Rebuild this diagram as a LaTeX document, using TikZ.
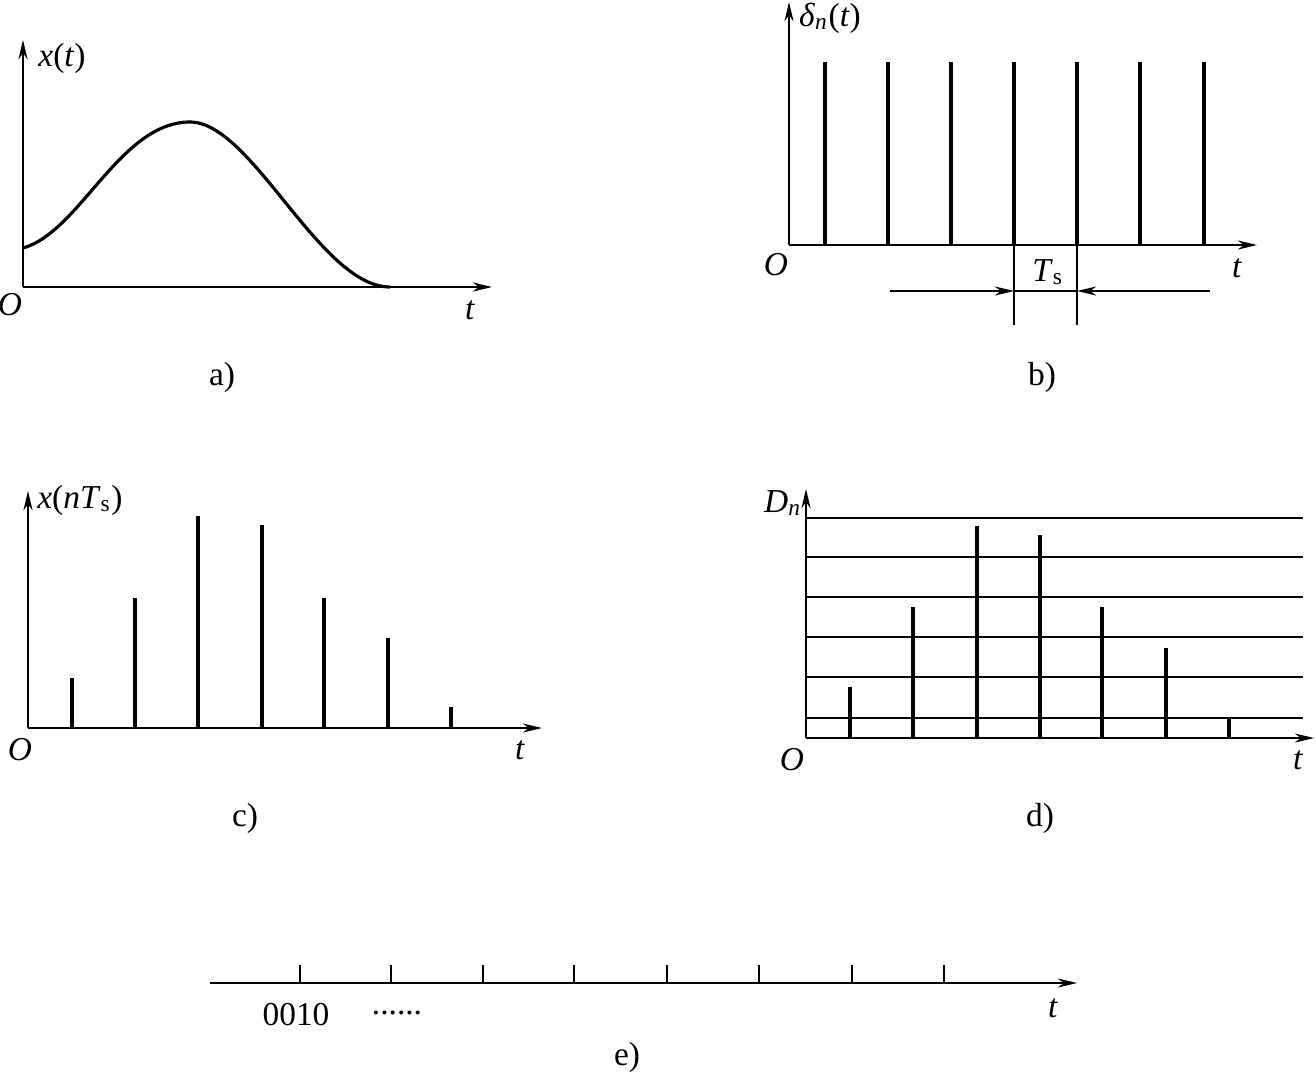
\documentclass[tikz,border=0pt]{standalone}
\usepackage{fontspec}
\setmainfont{Liberation Serif}
\usetikzlibrary{arrows.meta}
\begin{document}
\begin{tikzpicture}[>={Stealth[length=5.5pt,width=2.6pt]}, x=0.01cm, y=-0.01cm,
    font=\fontsize{9.5}{11}\selectfont,
    axis/.style={->, line width=0.45pt},
    spike/.style={line width=0.95pt},
    level/.style={line width=0.6pt}]
  \useasboundingbox (0,0) rectangle (1316,1075);
  % a)
  \draw[axis] (23,287) -- (23,40);
  \draw[axis] (23,287) -- (492,287);
  \draw[line width=0.9pt] (23,248) .. controls (80,232) and (120,122) .. (190,122)
    .. controls (252,122) and (320,287) .. (390,287);
  \node (xa) at (62,58) {\textit{x}(\textit{t})};
  \node (oa) at (10,305) {\textit{O}};
  \node (ta) at (470,310) {\textit{t}};
  \node (capa) at (222,377) {a)};
  % b)
  \draw[axis] (789,245) -- (789,2);
  \draw[axis] (789,245) -- (1257,245);
  \foreach \px in {825,888,951,1014,1077,1140,1204}
    \draw[spike] (\px,245) -- (\px,62);
  \draw[line width=0.45pt] (1014,245) -- (1014,325) (1077,245) -- (1077,325);
  \coordinate (dl) at (890,291);
  \coordinate (dr) at (1210,291);
  \coordinate (d1) at (1014,291);
  \coordinate (d2) at (1077,291);
  \draw[->, line width=0.45pt] (dl) -- (d1);
  \draw[->, line width=0.45pt] (dr) -- (d2);
  \draw[line width=0.45pt] (d1) -- (d2);
  \node (xb) at (830,18) {\textit{δ}\textsubscript{\textit{n}}(\textit{t})};
  \node (ob) at (776,265) {\textit{O}};
  \node (tb) at (1237,268) {\textit{t}};
  \node (ts) at (1048,272) {\textit{T}\textsubscript{s}};
  \node (capb) at (1042,377) {b)};
  % c)
  \draw[axis] (28,728) -- (28,491);
  \draw[axis] (28,728) -- (542,728);
  \foreach \px/\py in {72/678,135/598,198/516,262/525,324/598,388/638,451/707}
    \draw[spike] (\px,728) -- (\px,\py);
  \node (xc) at (80,500) {\textit{x}(\textit{nT}\textsubscript{s})};
  \node (oc) at (20,750) {\textit{O}};
  \node (tc) at (520,750) {\textit{t}};
  \node (capc) at (245,818) {c)};
  % d)
  \foreach \py in {518,557,597,637,677,718}
    \draw[level] (806,\py) -- (1303,\py);
  \draw[axis] (806,738) -- (806,489);
  \draw[axis] (806,738) -- (1314,738);
  \foreach \px/\py in {850/687,913/607,977/526,1040/535,1102/607,1166/648,1229/717}
    \draw[spike] (\px,738) -- (\px,\py);
  \node (xd) at (783,503) {\textit{D}\textsubscript{\textit{n}}};
  \node (od) at (792,760) {\textit{O}};
  \node (td) at (1298,760) {\textit{t}};
  \node (capd) at (1040,818) {d)};
  % e)
  \draw[axis] (210,983) -- (1077,983);
  \foreach \px in {300,391,483,574,667,759,852,944}
    \draw[line width=0.45pt] (\px,983) -- (\px,965);
  \node (code) at (296,1015) {0010};
  \node (dots) at (397,1013) {......};
  \node (te) at (1053,1008) {\textit{t}};
  \node (cape) at (627,1057) {e)};
\end{tikzpicture}
\end{document}
